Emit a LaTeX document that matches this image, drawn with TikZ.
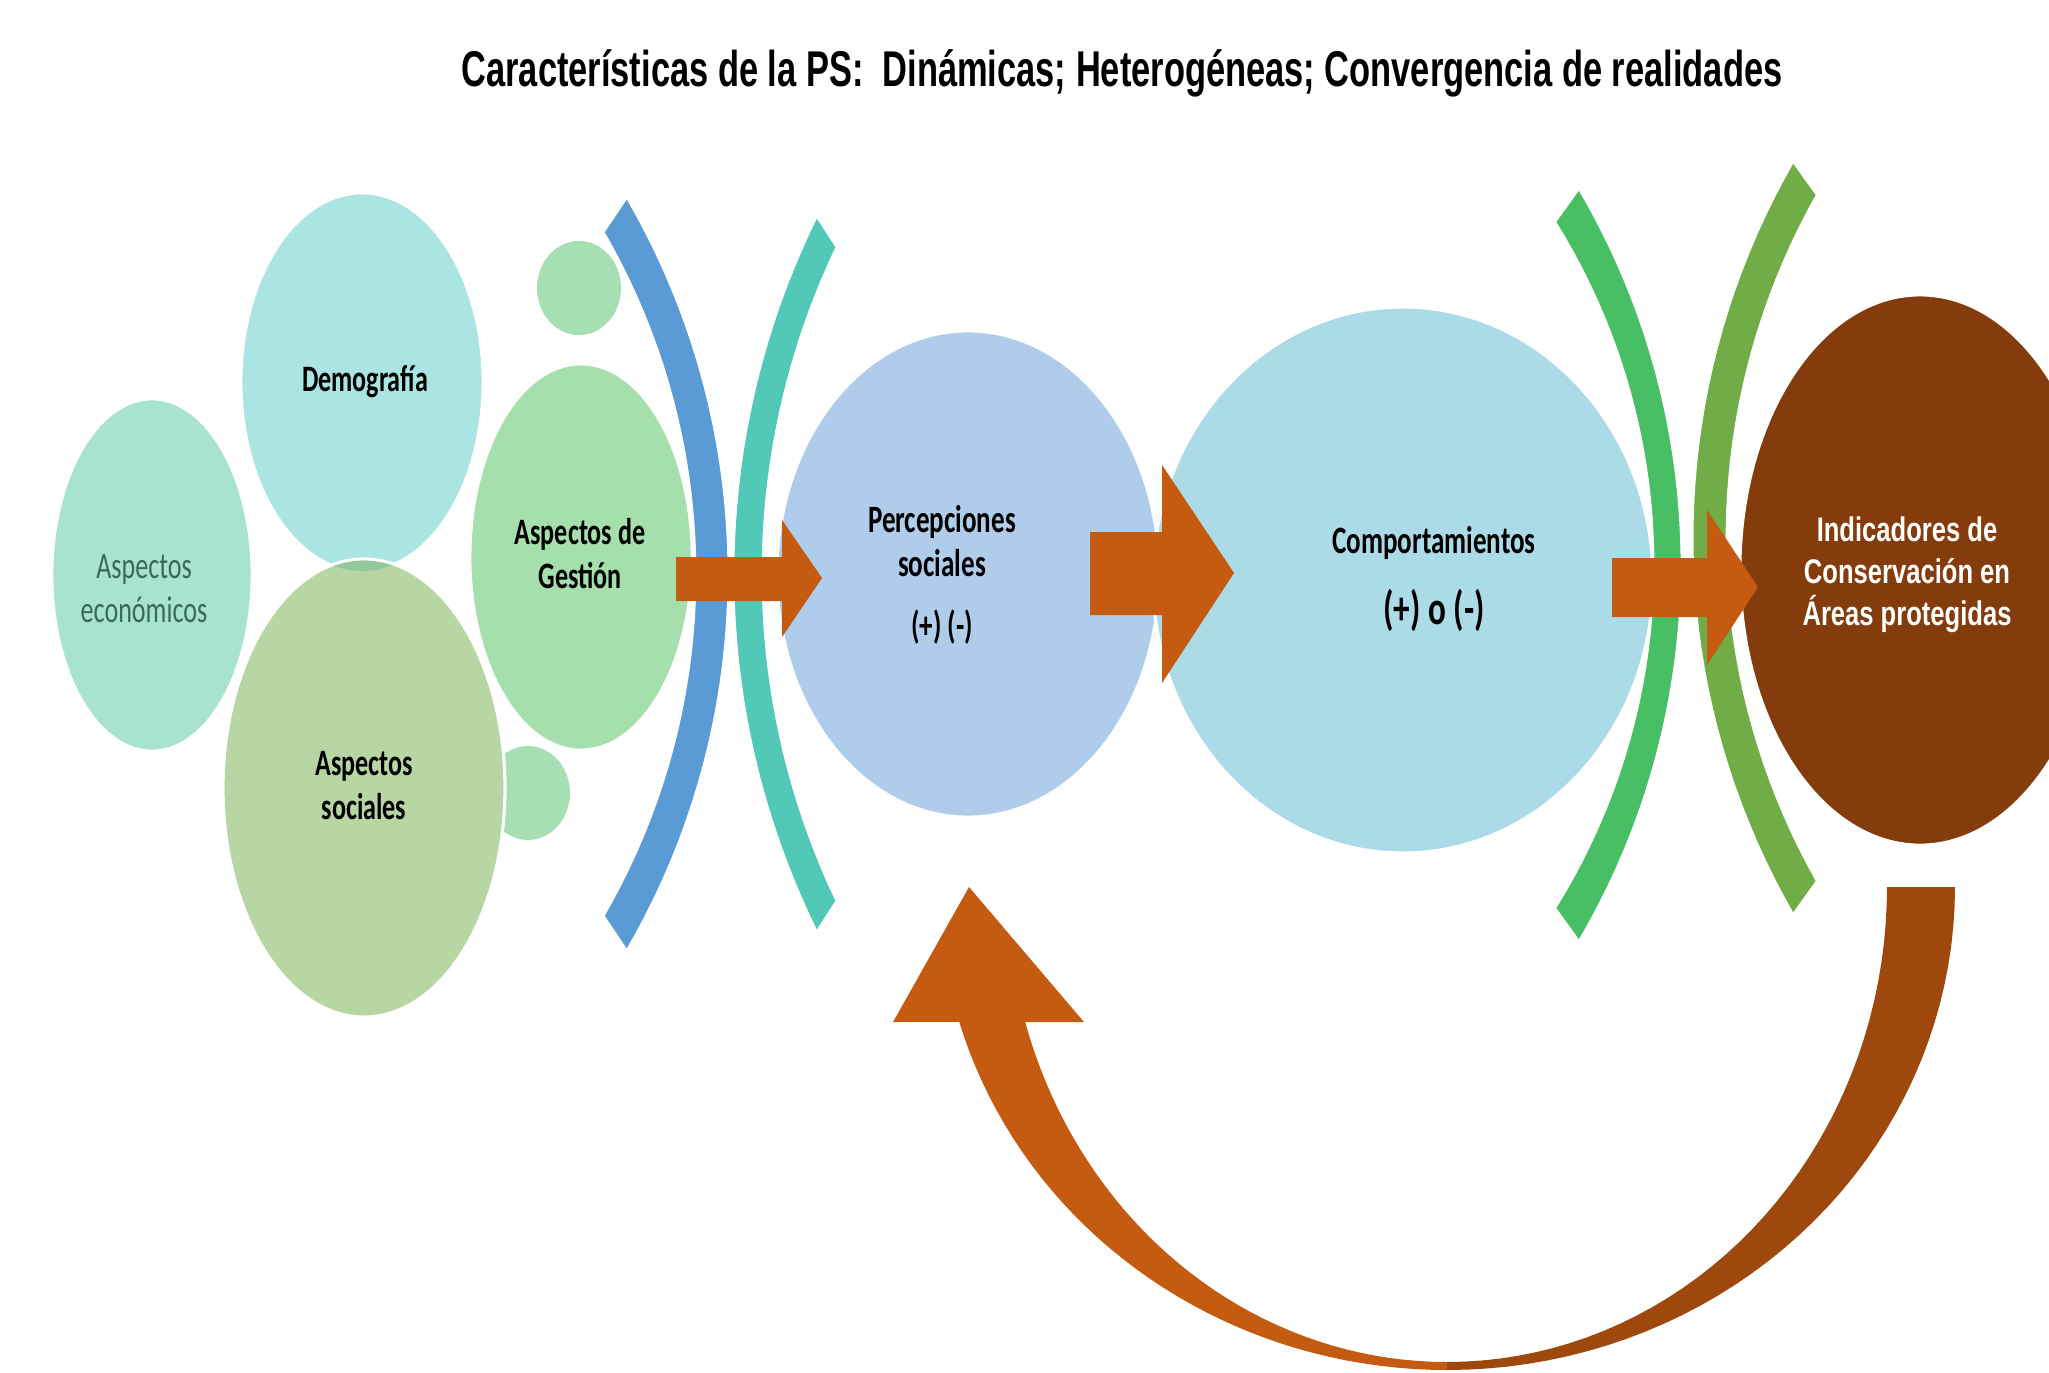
\documentclass[tikz,border=0pt]{standalone}
\usepackage{fontspec}
\newfontfamily\bubblefont[FakeStretch=0.7]{Carlito}
\newfontfamily\headfont[FakeStretch=0.685]{Liberation Sans}
\newfontfamily\resultfont[FakeStretch=0.75]{Liberation Sans}

\definecolor{ecogreen}{HTML}{A8E3D0}
\definecolor{democyan}{HTML}{ABE5E3}
\definecolor{socgreen}{HTML}{B8D6A3}
\definecolor{socdark}{HTML}{93C99A}
\definecolor{gestgreen}{HTML}{A4DFAC}
\definecolor{smallgreen}{HTML}{A5DFB3}
\definecolor{arcblue}{HTML}{5B9BD5}
\definecolor{arcteal}{HTML}{52C9B6}
\definecolor{arcgreen}{HTML}{48BF65}
\definecolor{arclime}{HTML}{70AD47}
\definecolor{percblue}{HTML}{AFCDEA}
\definecolor{compblue}{HTML}{ACDBE8}
\definecolor{compdark}{HTML}{86C1DF}
\definecolor{indbrown}{HTML}{843C0C}
\definecolor{arroworange}{HTML}{C55A11}
\definecolor{feedbrown}{HTML}{9E480E}
\definecolor{ecotext}{HTML}{356B5C}

\tikzset{
  bubbleline/.style={draw=white, line width=0.8pt},
  bubbletext/.style={align=center, text=black,
    font=\bubblefont\bfseries\fontsize{10.6}{12.5}\selectfont},
  titletext/.style={font=\headfont\bfseries\fontsize{14.3}{16}\selectfont},
  resulttext/.style={align=center, text=white,
    font=\resultfont\bfseries\fontsize{9.7}{12}\selectfont},
  blockarrow/.style={fill=arroworange},
}

\begin{document}
\begin{tikzpicture}[x=0.01cm, y=-0.01cm]

    % Frame of the picture, one unit per pixel, y running down.
    \useasboundingbox (0,0) rectangle (2049,1372);

    % Title.
    \node[titletext, anchor=base] (title) at (1122,86)
        {Características de la PS:\ \ Dinámicas; Heterogéneas; Convergencia de realidades};

    % Small bubbles.
    \fill[smallgreen] (579,288) ellipse [x radius=42, y radius=47];
    \fill[smallgreen] (528,793) ellipse [x radius=42, y radius=47];

    % Bubbles of the social factors.
    \filldraw[bubbleline, fill=ecogreen]  (152,575) ellipse [x radius=100, y radius=176];
    \filldraw[bubbleline, fill=democyan]  (362,382) ellipse [x radius=121, y radius=189];
    \filldraw[bubbleline, fill=socgreen]  (364,788) ellipse [x radius=141, y radius=229];
    \begin{scope}
        \clip (362,382) ellipse [x radius=121, y radius=189];
        \fill[socdark] (364,788) ellipse [x radius=141, y radius=229];
    \end{scope}
    \draw[bubbleline] (364,788) ellipse [x radius=141, y radius=229];
    \filldraw[bubbleline, fill=gestgreen] (581,557) ellipse [x radius=111, y radius=193];

    % Labels of the social factors.
    \node[bubbletext, text=ecotext, font=\bubblefont\fontsize{10.6}{12.5}\selectfont]
        (eco) at (144,589) {Aspectos\\económicos};
    \node[bubbletext] (demo) at (365,382) {Demografía};
    \node[bubbletext] (soc)  at (364,786) {Aspectos\\sociales};
    \node[bubbletext] (gest) at (580,554) {Aspectos de\\Gestión};

    % First pair of arcs.
    \filldraw[bubbleline, fill=arcblue]
        plot[domain=-30.1:30.1, samples=40] ({13.3+681.7*cos(\x)}, {574+681.7*sin(\x)})
        -- plot[domain=30.3:-30.3, samples=40] ({-18.7+747.7*cos(\x)}, {574+747.7*sin(\x)})
        -- cycle;
    \filldraw[bubbleline, fill=arcteal]
        plot[domain=206.3:153.7, samples=40] ({1542+809.1*cos(\x)}, {574+809.1*sin(\x)})
        -- plot[domain=154.5:205.5, samples=40] ({1522.5+759.5*cos(\x)}, {574+759.5*sin(\x)})
        -- cycle;

    % Perceptions and behaviours.
    \filldraw[bubbleline, fill=percblue] (968,574) ellipse [x radius=191, y radius=243];
    \filldraw[bubbleline, fill=compblue] (1403,580) ellipse [x radius=250, y radius=273];
    \begin{scope}
        \clip (968,574) ellipse [x radius=191, y radius=243];
        \fill[compdark] (1403,580) ellipse [x radius=250, y radius=273];
    \end{scope}
    \draw[bubbleline] (1403,580) ellipse [x radius=250, y radius=273];

    \node[bubbletext, font=\bubblefont\bfseries\fontsize{11}{12.5}\selectfont]
        (perc) at (942,575) {Percepciones\\sociales\\[5pt](+) (-)};
    \node[bubbletext, font=\bubblefont\bfseries\fontsize{11}{13}\selectfont]
        (comp) at (1434,579)
        {Comportamientos\\[7pt]{\fontsize{13.5}{15}\selectfont (+) o (-)}};

    % Block arrows.
    \fill[blockarrow] (676,557) -- (782,557) -- (782,520) -- (822,578)
        -- (782,637) -- (782,601) -- (676,601) -- cycle;
    \fill[blockarrow] (1090,532) -- (1162,532) -- (1162,465) -- (1234,573)
        -- (1162,683) -- (1162,615) -- (1090,615) -- cycle;

    % Second pair of arcs.
    \filldraw[bubbleline, fill=arcgreen]
        plot[domain=-32:32, samples=40] ({1005.5+647.5*cos(\x)}, {565+647.5*sin(\x)})
        -- plot[domain=30.56:-30.56, samples=40] ({940.6+741.4*cos(\x)}, {565+741.4*sin(\x)})
        -- cycle;
    \filldraw[bubbleline, fill=arclime]
        plot[domain=210:150, samples=40] ({2446.1+754.1*cos(\x)}, {538+754.1*sin(\x)})
        -- plot[domain=150.5:209.5, samples=40] ({2423.7+696.7*cos(\x)}, {538+696.7*sin(\x)})
        -- cycle;

    % Indicators.
    \filldraw[bubbleline, fill=indbrown] (1920,570) ellipse [x radius=180, y radius=275];
    \node[resulttext] (ind) at (1907,575)
        {Indicadores de\\Conservación en\\Áreas protegidas};

    \fill[blockarrow] (1612,558) -- (1707,558) -- (1707,510) -- (1758,587)
        -- (1707,665) -- (1707,617) -- (1612,617) -- cycle;

    % Feedback arrow, right half.
    \fill[feedbrown] (1887,887) -- (1955,887)
        -- plot[domain=0:90, samples=40] ({1447+508*cos(\x)}, {887+483*sin(\x)})
        -- plot[domain=90:0, samples=40] ({1447+440*cos(\x)}, {887+475*sin(\x)})
        -- cycle;
    % Feedback arrow, left half with its head.
    \fill[arroworange]
        plot[domain=90:163.8, samples=40] ({1447+508*cos(\x)}, {887+483*sin(\x)})
        -- (893,1022) -- (969,887) -- (1084,1022) -- (1025,1022)
        -- plot[domain=163.5:90, samples=40] ({1447+440*cos(\x)}, {887+475*sin(\x)})
        -- cycle;
\end{tikzpicture}
\end{document}
